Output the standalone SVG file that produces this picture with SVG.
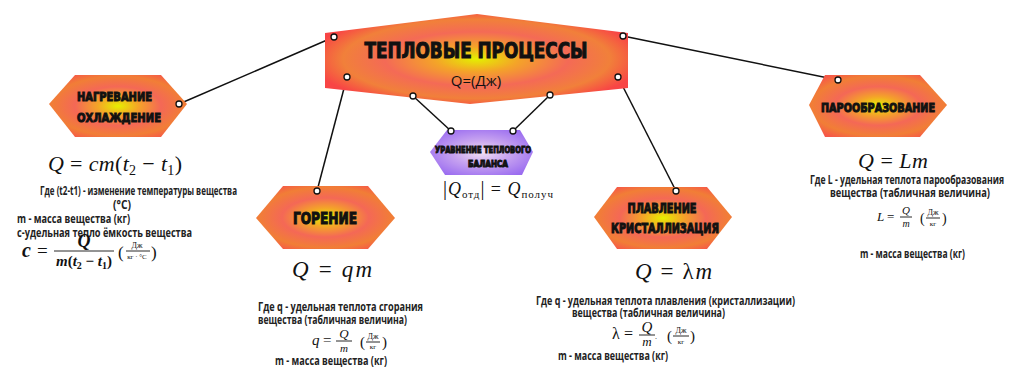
<svg xmlns="http://www.w3.org/2000/svg" width="1009" height="367" viewBox="0 0 1009 367">
<defs>
<radialGradient id="gMain" cx="0.5" cy="0.5" r="0.55">
<stop offset="0" stop-color="#e4f000"/>
<stop offset="0.25" stop-color="#f4a428"/>
<stop offset="0.55" stop-color="#f46a56"/>
<stop offset="0.8" stop-color="#f1803a"/>
<stop offset="1" stop-color="#f84545"/>
</radialGradient>
<radialGradient id="gOr" cx="0.5" cy="0.5" r="0.6">
<stop offset="0" stop-color="#e6f000"/>
<stop offset="0.25" stop-color="#f4a428"/>
<stop offset="0.52" stop-color="#f46856"/>
<stop offset="0.8" stop-color="#f17e36"/>
<stop offset="1" stop-color="#f65848"/>
</radialGradient>
<radialGradient id="gPu" cx="0.5" cy="0.5" r="0.6">
<stop offset="0" stop-color="#f2e0f4"/>
<stop offset="0.45" stop-color="#c8a4f0"/>
<stop offset="1" stop-color="#9a6cf0"/>
</radialGradient>
<style>
.lbl{font-family:"DejaVu Sans Condensed","DejaVu Sans",sans-serif;font-weight:bold;fill:#111;stroke:#111;stroke-width:1}
.txt{font-family:"Open Sans","Noto Sans",sans-serif;font-weight:bold;font-size:11.5px;fill:#222}
.m{font-family:"Liberation Serif","DejaVu Serif",serif;fill:#111}
.i{font-style:italic}
.con line{stroke:#111;stroke-width:1.5}
.con circle{fill:#fff;stroke:#111;stroke-width:1.3}
.bar{stroke:#111;stroke-width:0.9}
</style>
</defs>
<rect width="1009" height="367" fill="#fff"/>

<g id="connectors" class="con">
<line x1="334" y1="37" x2="179" y2="104"/>
<line x1="623" y1="36" x2="838" y2="80"/>
<line x1="347" y1="77" x2="317" y2="191"/>
<line x1="618" y1="77" x2="676" y2="191"/>
<line x1="413" y1="96" x2="451" y2="131"/>
<line x1="550" y1="95" x2="513" y2="131"/>
</g>

<g id="main">
<polygon points="325,33 477,14 628,33 628,88 470,104 325,88" fill="url(#gMain)"/>
<text class="lbl" x="476" y="58" font-size="22" text-anchor="middle" textLength="223" lengthAdjust="spacingAndGlyphs" stroke-width="1.6">ТЕПЛОВЫЕ ПРОЦЕССЫ</text>
<text x="476" y="86" font-family="Open Sans, sans-serif" font-size="15" fill="#111" text-anchor="middle">Q=(Дж)</text>
</g>

<g id="heating">
<polygon points="49,104 75,75 161,75 187,104 161,137 75,137" fill="url(#gOr)"/>
<text class="lbl" x="77" y="101" font-size="13" textLength="75" lengthAdjust="spacingAndGlyphs">НАГРЕВАНИЕ</text>
<text class="lbl" x="77" y="122" font-size="13" textLength="84" lengthAdjust="spacingAndGlyphs">ОХЛАЖДЕНИЕ</text>
</g>

<g id="combustion">
<polygon points="256,218 283,186 368,186 395,218 368,249 283,249" fill="url(#gOr)"/>
<text class="lbl" x="325" y="224" font-size="16" text-anchor="middle" textLength="64" lengthAdjust="spacingAndGlyphs" stroke-width="1.2">ГОРЕНИЕ</text>
</g>

<g id="balance">
<polygon points="430,152 447,130 520,130 533,152 522,175 445,175" fill="url(#gPu)"/>
<text class="lbl" x="483" y="153" font-size="9.5" text-anchor="middle" textLength="96" lengthAdjust="spacingAndGlyphs" stroke-width="0.6">УРАВНЕНИЕ ТЕПЛОВОГО</text>
<text class="lbl" x="488" y="167" font-size="9.5" text-anchor="middle" textLength="40" lengthAdjust="spacingAndGlyphs" stroke-width="0.6">БАЛАНСА</text>
</g>

<g id="melting">
<polygon points="594,217 617,187 707,187 732,217 707,249 617,249" fill="url(#gOr)"/>
<text class="lbl" x="662" y="213" font-size="14" text-anchor="middle" textLength="69" lengthAdjust="spacingAndGlyphs">ПЛАВЛЕНИЕ</text>
<text class="lbl" x="665" y="233" font-size="14" text-anchor="middle" textLength="108" lengthAdjust="spacingAndGlyphs">КРИСТАЛЛИЗАЦИЯ</text>
</g>

<g id="vaporization">
<polygon points="809,105 825,75 920,75 947,105 920,137 825,137" fill="url(#gOr)"/>
<text class="lbl" x="878" y="112" font-size="13" text-anchor="middle" textLength="114" lengthAdjust="spacingAndGlyphs">ПАРООБРАЗОВАНИЕ</text>
</g>

<g id="connector-dots" class="con">
<circle cx="334" cy="37" r="3"/>
<circle cx="179" cy="104" r="3"/>
<circle cx="623" cy="36" r="3"/>
<circle cx="838" cy="80" r="3"/>
<circle cx="347" cy="77" r="3"/>
<circle cx="317" cy="191" r="3"/>
<circle cx="618" cy="77" r="3"/>
<circle cx="676" cy="191" r="3"/>
<circle cx="413" cy="96" r="3"/>
<circle cx="451" cy="131" r="3"/>
<circle cx="550" cy="95" r="3"/>
<circle cx="513" cy="131" r="3"/>
</g>

<g id="heating-text">
<text class="m" x="48" y="171" font-size="22" textLength="134" lengthAdjust="spacing"><tspan class="i">Q</tspan> = <tspan class="i">cm</tspan>(<tspan class="i">t</tspan><tspan font-size="14" dy="4">2</tspan><tspan dy="-4"> − </tspan><tspan class="i">t</tspan><tspan font-size="14" dy="4">1</tspan><tspan dy="-4">)</tspan></text>
<text class="txt" x="40" y="195" textLength="197" lengthAdjust="spacingAndGlyphs">Где (t2-t1) - изменение температуры вещества</text>
<text class="txt" x="113" y="209" textLength="18" lengthAdjust="spacingAndGlyphs">(°C)</text>
<text class="txt" x="17" y="223" textLength="113" lengthAdjust="spacingAndGlyphs">m - масса вещества (кг)</text>
<text class="txt" x="17" y="237" textLength="175" lengthAdjust="spacingAndGlyphs">с-удельная тепло ёмкость вещества</text>
<text class="m i" x="22" y="257" font-size="20" font-weight="bold">c</text>
<text class="m" x="37" y="257" font-size="19">=</text>
<text class="m i" x="84" y="247" font-size="18" font-weight="bold" text-anchor="middle">Q</text>
<line class="bar" x1="54" y1="251" x2="114" y2="251"/>
<text class="m" x="84" y="266" font-size="15" text-anchor="middle" font-weight="bold"><tspan class="i">m</tspan>(<tspan class="i">t</tspan><tspan font-size="10" dy="3">2</tspan><tspan dy="-3"> − </tspan><tspan class="i">t</tspan><tspan font-size="10" dy="3">1</tspan><tspan dy="-3">)</tspan></text>
<text class="m" x="118" y="258" font-size="17" fill="#555">(</text>
<text class="m" x="137" y="248" font-size="8" text-anchor="middle">Дж</text>
<line class="bar" x1="126" y1="251" x2="150" y2="251" stroke-width="0.6"/>
<text class="m" x="137" y="259" font-size="7" text-anchor="middle">кг · °C</text>
<text class="m" x="151" y="258" font-size="17" fill="#555">)</text>
</g>

<g id="combustion-text">
<text class="m" x="292" y="277" font-size="23" textLength="80" lengthAdjust="spacing"><tspan class="i">Q</tspan> = <tspan class="i">qm</tspan></text>
<text class="txt" x="258" y="311" textLength="165" lengthAdjust="spacingAndGlyphs">Где q - удельная теплота сгорания</text>
<text class="txt" x="258" y="324" textLength="149" lengthAdjust="spacingAndGlyphs">вещества (табличная величина)</text>
<text class="m i" x="312" y="345" font-size="15">q</text>
<text class="m" x="323" y="345" font-size="15">=</text>
<text class="m i" x="344" y="338" font-size="13" text-anchor="middle">Q</text>
<line class="bar" x1="336" y1="341" x2="352" y2="341" stroke-width="0.7"/>
<text class="m i" x="344" y="352" font-size="11" text-anchor="middle">m</text>
<text class="m" x="360" y="347" font-size="15" fill="#555">(</text>
<text class="m" x="373" y="339" font-size="8" text-anchor="middle">Дж</text>
<line class="bar" x1="366" y1="342" x2="380" y2="342" stroke-width="0.6"/>
<text class="m" x="373" y="349" font-size="7" text-anchor="middle">кг</text>
<text class="m" x="382" y="347" font-size="15" fill="#555">)</text>
<text class="txt" x="275" y="365" textLength="112" lengthAdjust="spacingAndGlyphs">m - масса вещества (кг)</text>
</g>

<g id="balance-text">
<text class="m" x="443" y="195" font-size="18" textLength="110" lengthAdjust="spacing"><tspan font-size="20">|</tspan><tspan class="i">Q</tspan><tspan font-size="11" dy="3">отд</tspan><tspan dy="-3" font-size="20">|</tspan> = <tspan class="i">Q</tspan><tspan font-size="11" dy="3">получ</tspan></text>
</g>

<g id="melting-text">
<text class="m" x="635" y="279" font-size="23" textLength="77" lengthAdjust="spacing"><tspan class="i">Q</tspan> = <tspan>λ</tspan><tspan class="i">m</tspan></text>
<text class="txt" x="536" y="305" textLength="259" lengthAdjust="spacingAndGlyphs">Где q - удельная теплота плавления (кристаллизации)</text>
<text class="txt" x="572" y="317" textLength="153" lengthAdjust="spacingAndGlyphs">вещества (табличная величина)</text>
<text class="m" x="612" y="339" font-size="16">λ</text>
<text class="m" x="624" y="339" font-size="16">=</text>
<text class="m i" x="647" y="332" font-size="15" text-anchor="middle">Q</text>
<line class="bar" x1="639" y1="335" x2="655" y2="335" stroke-width="0.7"/>
<text class="m i" x="647" y="346" font-size="13" text-anchor="middle">m</text>
<text class="m" x="655" y="339" font-size="8">.</text>
<text class="m" x="667" y="341" font-size="15" fill="#555">(</text>
<text class="m" x="681" y="333" font-size="8" text-anchor="middle">Дж</text>
<line class="bar" x1="673" y1="336" x2="689" y2="336" stroke-width="0.6"/>
<text class="m" x="681" y="344" font-size="7" text-anchor="middle">кг</text>
<text class="m" x="690" y="341" font-size="15" fill="#555">)</text>
<text class="txt" x="558" y="360" textLength="110" lengthAdjust="spacingAndGlyphs">m - масса вещества (кг)</text>
</g>

<g id="vaporization-text">
<text class="m" x="858" y="168" font-size="22" textLength="70" lengthAdjust="spacing"><tspan class="i">Q</tspan> = <tspan class="i">Lm</tspan></text>
<text class="txt" x="810" y="184" textLength="194" lengthAdjust="spacingAndGlyphs">Где L - удельная теплота парообразования</text>
<text class="txt" x="830" y="197" textLength="160" lengthAdjust="spacingAndGlyphs">вещества (табличная величина)</text>
<text class="m i" x="877" y="221" font-size="13">L</text>
<text class="m" x="887" y="221" font-size="13">=</text>
<text class="m i" x="906" y="214" font-size="11" text-anchor="middle">Q</text>
<line class="bar" x1="900" y1="217" x2="912" y2="217" stroke-width="0.6"/>
<text class="m i" x="906" y="227" font-size="10" text-anchor="middle">m</text>
<text class="m" x="920" y="223" font-size="14" fill="#555">(</text>
<text class="m" x="933" y="215" font-size="8" text-anchor="middle">Дж</text>
<line class="bar" x1="926" y1="218" x2="940" y2="218" stroke-width="0.6"/>
<text class="m" x="933" y="226" font-size="7" text-anchor="middle">кг</text>
<text class="m" x="942" y="223" font-size="14" fill="#555">)</text>
<text class="txt" x="860" y="258" textLength="105" lengthAdjust="spacingAndGlyphs">m - масса вещества (кг)</text>
</g>
</svg>
